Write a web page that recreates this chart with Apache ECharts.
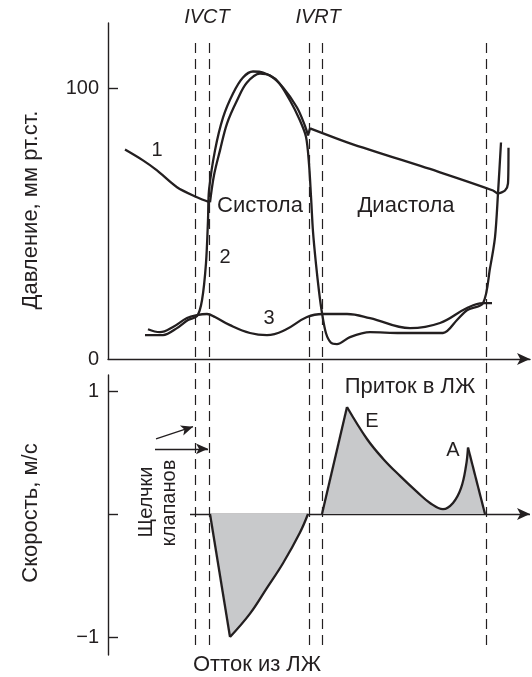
<!DOCTYPE html>
<html><head><meta charset="utf-8">
<script src="https://cdn.jsdelivr.net/npm/echarts@6/dist/echarts.min.js"></script>
<style>html,body{margin:0;padding:0;background:#fff}#c{width:532px;height:677px}</style>
</head><body><div id="c"></div>
<script>
// time t (arbitrary units), pressure (mm Hg)
const aorticDecline = [[17,77.3],[35,73.3],[49,69.6],[69,63.4],[89,59.7],[102,57.8]];
const aorticSystole = [[102,57.8],[106,67.8],[112,77.0],[119,86.9],[129,95.4],[139,102.0],[152,105.3],[162,104.6],[175,100.2],[189,92.8],[197,86.0],[200,82.5]];
const aorticNotch = [[200,82.5],[202,85.1]];
const aorticDiastole = [[202,85.1],[242,79.6],[332,68.9],[385,62.2],[390,61.1],[397,62.2],[400,64.8],[400.5,78.0]];
const lvPressure = [[37,8.8],[55,8.8],[69,11.4],[80,14.4],[89,15.8],[94,21.7],[98,35.4],[100,51.2],[101,62.2],[107,77.0],[115,89.1],[125,98.0],[135,103.9],[145,106.1],[155,105.7],[169,102.8],[182,95.4],[192,88.0],[198,82.0],[201,72.0],[203,60.0],[205,47.0],[208,35.0],[211,25.0],[214,17.0],[218,9.5],[223,6.0],[229,5.5],[242,8.1],[262,9.9],[292,9.6],[335,9.6],[349,14.4],[359,18.0],[375,20.6],[382,33.5],[387,44.9],[390,61.1],[393,79.9]];
const laPressure = [[40,11.0],[52,9.9],[65,11.8],[79,15.1],[89,16.2],[99,16.6],[107,15.5],[122,12.5],[142,9.6],[159,8.8],[177,10.7],[199,15.5],[215,16.6],[239,16.6],[262,15.1],[302,11.4],[332,13.3],[359,18.8],[375,20.6],[384,20.6]];
// velocity (m/s)
const ejectDown = [[102,0],[122,-1.0]];
const ejectRecover = [[122,-1.0],[142,-0.81],[159,-0.60],[175,-0.40],[192,-0.15],[200,0]];
const inflowRise = [[214,0],[239,0.87]];
const inflowDecay = [[239,0.87],[259,0.61],[275,0.45],[292,0.31],[309,0.18],[322,0.09],[335,0.04],[345,0.09],[353,0.21],[358,0.39],[360,0.54]];
const inflowFall = [[360,0.54],[377,0]];
// event markers (dashed lines)
const dashedTimes = [87,101,201,214,378];
// valve click arrows [from, to]
const clickArrows = [[[48,0.61],[85,0.71]],[[47,0.53],[100,0.53]]];
const pressureTicks = [0,100];
const velocityTicks = [-1,0,1];
const velocityLabels = [-1,1];

const ink = '#231f20';
const fillGray = '#c8c9cb';
const FONT = '"Liberation Sans", Arial, sans-serif';

function curve(data, xi, smooth, area) {
  const s = {type:'line', xAxisIndex:xi, yAxisIndex:xi, data:data, smooth:smooth, showSymbol:false, symbol:'none',
    lineStyle:{color:ink, width:2.3}, z:5, silent:true, animation:false};
  if (area) s.areaStyle = {color:fillGray, opacity:1, origin:0};
  return s;
}
function txt(text, x, y, extra) {
  extra = extra || {};
  const el = {type:'text', x:x, y:y, silent:true,
    style:Object.assign({text:text, fill:ink, fontSize:20, fontFamily:FONT, align:'center', verticalAlign:'middle'}, extra.style || {})};
  if (extra.rotation !== undefined) el.rotation = extra.rotation;
  return el;
}
const CY = {fontSize:22};

const chart = echarts.init(document.getElementById('c'), null, {renderer:'canvas'});
chart.setOption({
  animation:false,
  backgroundColor:'#fff',
  grid:[
    {left:108, top:23, width:422, height:336},
    {left:108, top:375, width:422, height:280},
    {left:108, top:43, width:422, height:602}
  ],
  xAxis:[
    {gridIndex:0, type:'value', min:0, max:422,
     axisLine:{show:true, symbol:['none','arrow'], symbolSize:[9,13], lineStyle:{color:ink, width:1.4}},
     axisTick:{show:false}, axisLabel:{show:false}, splitLine:{show:false}},
    {gridIndex:1, type:'value', min:0, max:422, axisLine:{show:false}, axisTick:{show:false}, axisLabel:{show:false}, splitLine:{show:false}},
    {gridIndex:2, type:'value', min:0, max:422, show:false}
  ],
  yAxis:[
    {gridIndex:0, type:'value', min:0, max:124,
     axisLine:{show:true, lineStyle:{color:ink, width:1.4}},
     axisTick:{show:true, inside:true, length:10, customValues:[100], lineStyle:{color:ink, width:1.4}},
     axisLabel:{customValues:pressureTicks, color:ink, fontSize:20, fontFamily:FONT, margin:9},
     splitLine:{show:false}},
    {gridIndex:1, type:'value', min:-1.146, max:1.13,
     axisLine:{show:true, onZero:false, lineStyle:{color:ink, width:1.4}},
     axisTick:{show:true, inside:true, length:10, customValues:velocityTicks, lineStyle:{color:ink, width:1.4}},
     axisLabel:{customValues:velocityLabels, color:ink, fontSize:20, fontFamily:FONT, margin:9,
       formatter:function(v){return v<0 ? '\u2212'+Math.abs(v) : String(v);}},
     splitLine:{show:false}},
    {gridIndex:2, type:'value', min:0, max:1, show:false}
  ],
  series:[
    curve(aorticDecline,0,0.3,false),
    curve(aorticSystole,0,0.35,false),
    curve(aorticNotch,0,false,false),
    curve(aorticDiastole,0,0.25,false),
    curve(lvPressure,0,0.3,false),
    curve(laPressure,0,0.4,false),
    curve(ejectDown,1,false,true),
    curve(ejectRecover,1,0.4,true),
    curve(inflowRise,1,false,true),
    curve(inflowDecay,1,0.4,true),
    curve(inflowFall,1,false,true),
    {type:'line', xAxisIndex:2, yAxisIndex:2, data:[], silent:true,
     markLine:{silent:true, symbol:['none','none'], label:{show:false}, animation:false,
       lineStyle:{color:ink, width:1.2, type:[10,6]},
       data:dashedTimes.map(function(t){return {xAxis:t};})}},
    {type:'line', xAxisIndex:1, yAxisIndex:1, data:[], silent:true,
     markLine:{silent:true, symbol:['none','arrow'], symbolSize:[8,12], label:{show:false}, animation:false,
       lineStyle:{color:ink, width:1.3, type:'solid'},
       data:clickArrows.map(function(a){return [{coord:a[0]},{coord:a[1]}];})}},
    {type:'line', xAxisIndex:1, yAxisIndex:1, data:[], silent:true,
     markLine:{silent:true, symbol:['none','arrow'], symbolSize:[9,13], label:{show:false}, animation:false,
       lineStyle:{color:ink, width:1.4, type:'solid'},
       data:[[{coord:[82,0]},{coord:[422,0]}]]}}
  ],
  graphic:[
    txt('IVCT',207,17,{style:{fontStyle:'italic'}}),
    txt('IVRT',318,17,{style:{fontStyle:'italic'}}),
    txt('1',157,150),
    txt('2',225,257),
    txt('3',269,318),
    txt('Систола',260,206,{style:CY}),
    txt('Диастола',406,206,{style:CY}),
    txt('Приток в ЛЖ',410,387,{style:CY}),
    txt('E',372,421),
    txt('A',453,450),
    txt('Отток из ЛЖ',257,665,{style:CY}),
    txt('Щелчки',146,502,{rotation:Math.PI/2}),
    txt('клапанов',169,503,{rotation:Math.PI/2}),
    txt('Давление, мм рт.ст.',31,210,{rotation:Math.PI/2, style:CY}),
    txt('Скорость, м/с',31,513,{rotation:Math.PI/2, style:CY})
  ]
});
</script></body></html>
